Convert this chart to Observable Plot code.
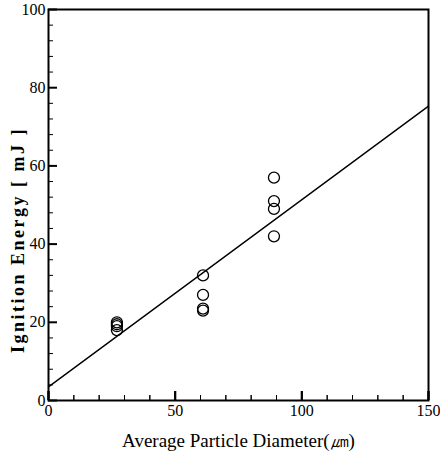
<!DOCTYPE html>
<html>
<head>
<meta charset="utf-8">
<script src="https://cdn.jsdelivr.net/npm/d3@7"></script>
<script src="https://cdn.jsdelivr.net/npm/@observablehq/plot@0.6"></script>
<style>
  html, body { margin: 0; padding: 0; background: #fff; color: #000; }
  svg text { font-family: 'Liberation Serif', 'Times New Roman', serif !important; }
</style>
</head>
<body>
<div id="chart"></div>
<script>
// Data
const diameter = [27, 27, 27, 27, 61, 61, 61, 61, 89, 89, 89, 89];
const energy   = [20, 19.5, 19, 18, 32, 27, 23.5, 23, 57, 51, 49, 42];
const fitX = [0, 150];
const fitY = [3.5, 75.3];

const xMajor = [0, 50, 100, 150];
const xMinor = [10, 20, 30, 40, 60, 70, 80, 90, 110, 120, 130, 140];
const yMajor = [0, 20, 40, 60, 80, 100];
const yMinor = [4, 8, 12, 16, 24, 28, 32, 36, 44, 48, 52, 56, 64, 68, 72, 76, 84, 88, 92, 96];

const xTitle = "Average Particle Diameter(㎛)";
const yTitle = "Ignition Energy [ mJ ]";

const points = diameter.map((d, i) => ({d, e: energy[i]}));
const fit = fitX.map((x, i) => ({x, y: fitY[i]}));

const W = 440, H = 458, mL = 48, mR = 12, mT = 9, mB = 58;
const innerW = W - mL - mR, innerH = H - mT - mB;
const blank = () => "";

const chart = Plot.plot({
  width: W,
  height: H,
  marginLeft: mL,
  marginRight: mR,
  marginTop: mT,
  marginBottom: mB,
  x: {domain: [0, 150]},
  y: {domain: [0, 100]},
  marks: [
    // tick labels
    Plot.axisX(xMajor, {tickSize: 0, tickPadding: 4, fontSize: 16, label: null}),
    Plot.axisY(yMajor, {tickSize: 0, tickPadding: 3, fontSize: 16, label: null}),
    // inward x tick marks (axis ticks shifted inside the frame)
    Plot.axisX(xMajor, {tickSize: 9, dy: -9, tickFormat: blank, strokeWidth: 2, label: null}),
    Plot.axisX(xMinor, {tickSize: 5, dy: -5, tickFormat: blank, strokeWidth: 1, label: null}),
    Plot.tickX(xMajor, {x: d => d, insetTop: innerH - 9, stroke: "#000", strokeWidth: 2}),
    Plot.tickX(xMinor, {x: d => d, insetTop: innerH - 5, stroke: "#000", strokeWidth: 1}),
    // inward y tick marks
    Plot.tickY(yMajor, {y: d => d, insetRight: innerW - 9, stroke: "#000", strokeWidth: 2}),
    Plot.tickY(yMinor, {y: d => d, insetRight: innerW - 5, stroke: "#000", strokeWidth: 1}),
    Plot.frame({stroke: "#000", strokeWidth: 2}),
    Plot.line(fit, {x: "x", y: "y", stroke: "#000", strokeWidth: 1.4}),
    Plot.dot(points, {x: "d", y: "e", r: 5.5, stroke: "#000", strokeWidth: 1.3, fill: "none"}),
    Plot.text([xTitle], {frameAnchor: "bottom", dy: 46, fontSize: 19, fill: "#000"}),
    Plot.text([yTitle], {frameAnchor: "left", textAnchor: "middle", rotate: -90, dx: -30, dy: 35, fontSize: 18, fontWeight: "bold", fill: "#000"})
  ]
});
d3.select(chart).selectAll("text").filter(function() { return this.textContent === yTitle; })
  .style("letter-spacing", "2.5px");
document.getElementById("chart").appendChild(chart);
</script>
</body>
</html>
